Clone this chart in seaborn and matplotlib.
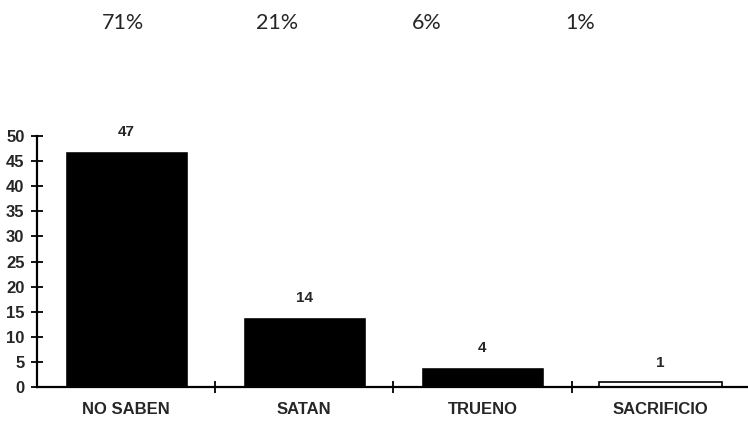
"""Bar chart: answers with percentage header."""

import matplotlib.pyplot as plt
import pandas as pd
import seaborn as sns

sns.set_theme(style="white")
plt.rcParams["font.family"] = ["Liberation Sans", "DejaVu Sans"]

categories = ["NO SABEN", "SATAN", "TRUENO", "SACRIFICIO"]
counts = [47, 14, 4, 1]
percent_labels = ["71%", "21%", "6%", "1%"]
percent_x = [123, 277, 427, 580]  # pixel centres of the header labels

df = pd.DataFrame({"categoria": categories, "n": counts})

fig = plt.figure(figsize=(7.48, 4.23), dpi=100)
ax = fig.add_axes([37 / 748, 1 - 387 / 423, 1 - 37 / 748, (387 - 136) / 423])

sns.barplot(data=df, x="categoria", y="n", color="black", width=0.69,
            saturation=1, ax=ax)
for patch in ax.patches[3:]:
    patch.set_facecolor("white")
    patch.set_edgecolor("black")
    patch.set_linewidth(1.2)

for i, v in enumerate(counts):
    ax.text(i, v + 2.4, str(v), ha="center", va="bottom",
            fontsize=11, fontweight="bold")

ax.set_ylim(0, 50)
ax.set_xlim(-0.5, 3.49)
ax.set_yticks(range(0, 51, 5))
ax.set_xticks(range(4))
ax.set_xticks([0.5, 1.5, 2.5], minor=True)
ax.set_xticklabels(categories, fontsize=12, fontweight="bold")
for lab in ax.get_yticklabels():
    lab.set_fontweight("bold")
    lab.set_fontsize(12)
ax.tick_params(axis="x", which="major", length=0, pad=11)
ax.tick_params(axis="x", which="minor", direction="inout", length=8,
               width=1.3, color="black", bottom=True)
ax.tick_params(axis="y", direction="inout", length=8, width=1.3,
               color="black", left=True, pad=5)
ax.set_xlabel("")
ax.set_ylabel("")
for side in ["top", "right"]:
    ax.spines[side].set_visible(False)
for side in ["left", "bottom"]:
    ax.spines[side].set_color("black")
    ax.spines[side].set_linewidth(1.6)

for x, t in zip(percent_x, percent_labels):
    fig.text(x / 748, 1 - 23 / 423, t, ha="center", va="center",
             fontsize=15.5, family=["Lato", "DejaVu Sans"])

fig.savefig("out.png", dpi=100)
